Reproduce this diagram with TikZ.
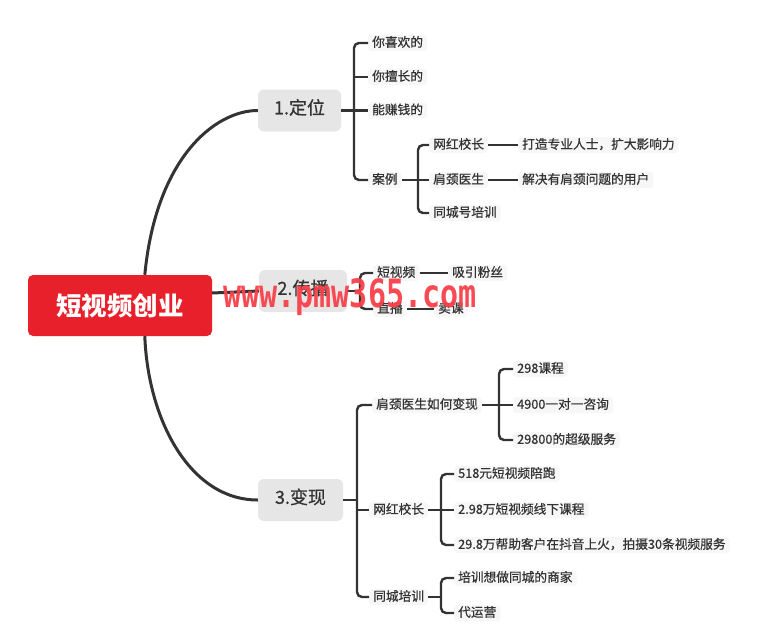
\documentclass[tikz,border=0pt]{standalone}
\usepackage{fontspec}
\usepackage{graphicx}
\setmainfont{Noto Sans CJK SC}
\newfontfamily\cjkmed{Noto Sans CJK SC}[FakeBold=0.6]
\newfontfamily\wmfont{DejaVu Sans Mono}
\usetikzlibrary{calc}
\definecolor{rootred}{HTML}{E8202B}
\definecolor{lvgray}{HTML}{E6E6E6}
\definecolor{leafbg}{HTML}{F7F7F7}
\definecolor{ink}{HTML}{333333}
\definecolor{wmred}{HTML}{F9404A}
\begin{document}
\begin{tikzpicture}[x=1pt,y=-1pt,
  rootbox/.style={fill=rootred, text=white, rounded corners=5pt, minimum width=184pt, minimum height=61pt, inner sep=0pt, font=\fontsize{25.5}{28}\selectfont\bfseries},
  topicbox/.style={fill=lvgray, text=ink, rounded corners=6pt, minimum height=42pt, inner sep=0pt, text height=0.88em, text depth=0.12em, font=\cjkmed\fontsize{18}{20}\selectfont},
  leaf/.style={fill=leafbg, text=ink, rounded corners=3pt, anchor=west, inner xsep=4pt, inner ysep=3pt, text height=0.88em, text depth=0.12em, font=\cjkmed\fontsize{12.7}{14}\selectfont},
  conn/.style={draw=ink, line width=2.4pt},
  bigconn/.style={draw=ink, line width=3pt},
  bracket/.style={draw=ink, line width=2.4pt, rounded corners=5pt},
  thin/.style={draw=ink, line width=2pt},
]
\useasboundingbox (0,0) rectangle (768,634);

% root and topics
\node[rootbox] (root) at (120,305.5) {短视频创业};
\node[topicbox, minimum width=83pt] (n1) at (299.5,110.5) {1.定位};
\node[topicbox, minimum width=88pt] (n2) at (303,291) {2.传播};
\node[topicbox, minimum width=85pt] (n3) at (300.5,500) {3.变现};

\draw[bigconn] ([xshift=117pt]root.north west) .. controls (156,158) and (215,110.5) .. (n1.west);
\draw[bigconn] ([xshift=117pt]root.south west) .. controls (148,420) and (190,500) .. (n3.west);
\draw[bigconn] ([yshift=12.5pt]root.east) -- (n2.west);

% 1. 定位
\node[leaf] (c11) at (368,43) {你喜欢的};
\node[leaf] (c12) at (368,77) {你擅长的};
\node[leaf] (c13) at (368,110.5) {能赚钱的};
\node[leaf] (c14) at (368,180) {案例};
\coordinate (b1) at (354,110.5);
\draw[conn] (n1.east) -- (b1);
\draw[bracket] (c11.west) -- (b1 |- c11.west) -- (b1 |- c14.west) -- (c14.west);
\draw[conn] (b1 |- c12.west) -- (c12.west);
\draw[conn] (b1 |- c13.west) -- (c13.west);

\node[leaf] (d1) at (429,145) {网红校长};
\node[leaf] (d2) at (429,180) {肩颈医生};
\node[leaf] (d3) at (429,213) {同城号培训};
\coordinate (b2) at (418,180);
\draw[conn] (c14.east) -- (b2);
\draw[bracket] (d1.west) -- (b2 |- d1.west) -- (b2 |- d3.west) -- (d3.west);
\draw[conn] (b2) -- (d2.west);

\node[leaf] (e1) at (518,145) {打造专业人士，扩大影响力};
\node[leaf] (e2) at (518,180) {解决有肩颈问题的用户};
\draw[thin] (d1.east) -- (e1.west);
\draw[thin] (d2.east) -- (e2.west);

% 2. 传播
\node[leaf] (f1) at (373,273) {短视频};
\node[leaf] (f2) at (373,309) {直播};
\coordinate (b3) at (360,291);
\draw[conn] (n2.east) -- (b3);
\draw[bracket] (f1.west) -- (b3 |- f1.west) -- (b3 |- f2.west) -- (f2.west);
\node[leaf] (g1) at (448,273) {吸引粉丝};
\node[leaf] (g2) at (434,309) {卖课};
\draw[thin] (f1.east) -- (g1.west);
\draw[thin] (f2.east) -- (g2.west);

% 3. 变现
\node[leaf] (m1) at (372,405) {肩颈医生如何变现};
\node[leaf] (m2) at (369,510) {网红校长};
\node[leaf] (m3) at (369,597) {同城培训};
\coordinate (b4) at (357,500);
\draw[conn] (n3.east) -- (b4);
\draw[bracket] (m1.west) -- (b4 |- m1.west) -- (b4 |- m3.west) -- (m3.west);
\draw[conn] (b4 |- m2.west) -- (m2.west);

\node[leaf] (p1) at (513,369) {298课程};
\node[leaf] (p2) at (513,405) {4900一对一咨询};
\node[leaf] (p3) at (513,440) {29800的超级服务};
\coordinate (b5) at (499,405);
\draw[conn] (m1.east) -- (b5);
\draw[bracket] (p1.west) -- (b5 |- p1.west) -- (b5 |- p3.west) -- (p3.west);
\draw[conn] (b5) -- (p2.west);

\node[leaf] (q1) at (454,474) {518元短视频陪跑};
\node[leaf] (q2) at (454,510) {2.98万短视频线下课程};
\node[leaf] (q3) at (454,545) {29.8万帮助客户在抖音上火，拍摄30条视频服务};
\coordinate (b6) at (441,510);
\draw[conn] (m2.east) -- (b6);
\draw[bracket] (q1.west) -- (b6 |- q1.west) -- (b6 |- q3.west) -- (q3.west);
\draw[conn] (b6) -- (q2.west);

\node[leaf] (r1) at (454,578) {培训想做同城的商家};
\node[leaf] (r2) at (454,613) {代运营};
\coordinate (b7) at (441,597);
\draw[conn] (m3.east) -- (b7);
\draw[bracket] (r1.west) -- (b7 |- r1.west) -- (b7 |- r2.west) -- (r2.west);

% watermark
\node[text=wmred, opacity=0.95, inner sep=0pt, anchor=base, font=\wmfont\bfseries\fontsize{39}{42}\selectfont] (wm) at (350,307) {\scalebox{0.77}[1]{www.pmw365.com}};
\end{tikzpicture}
\end{document}
